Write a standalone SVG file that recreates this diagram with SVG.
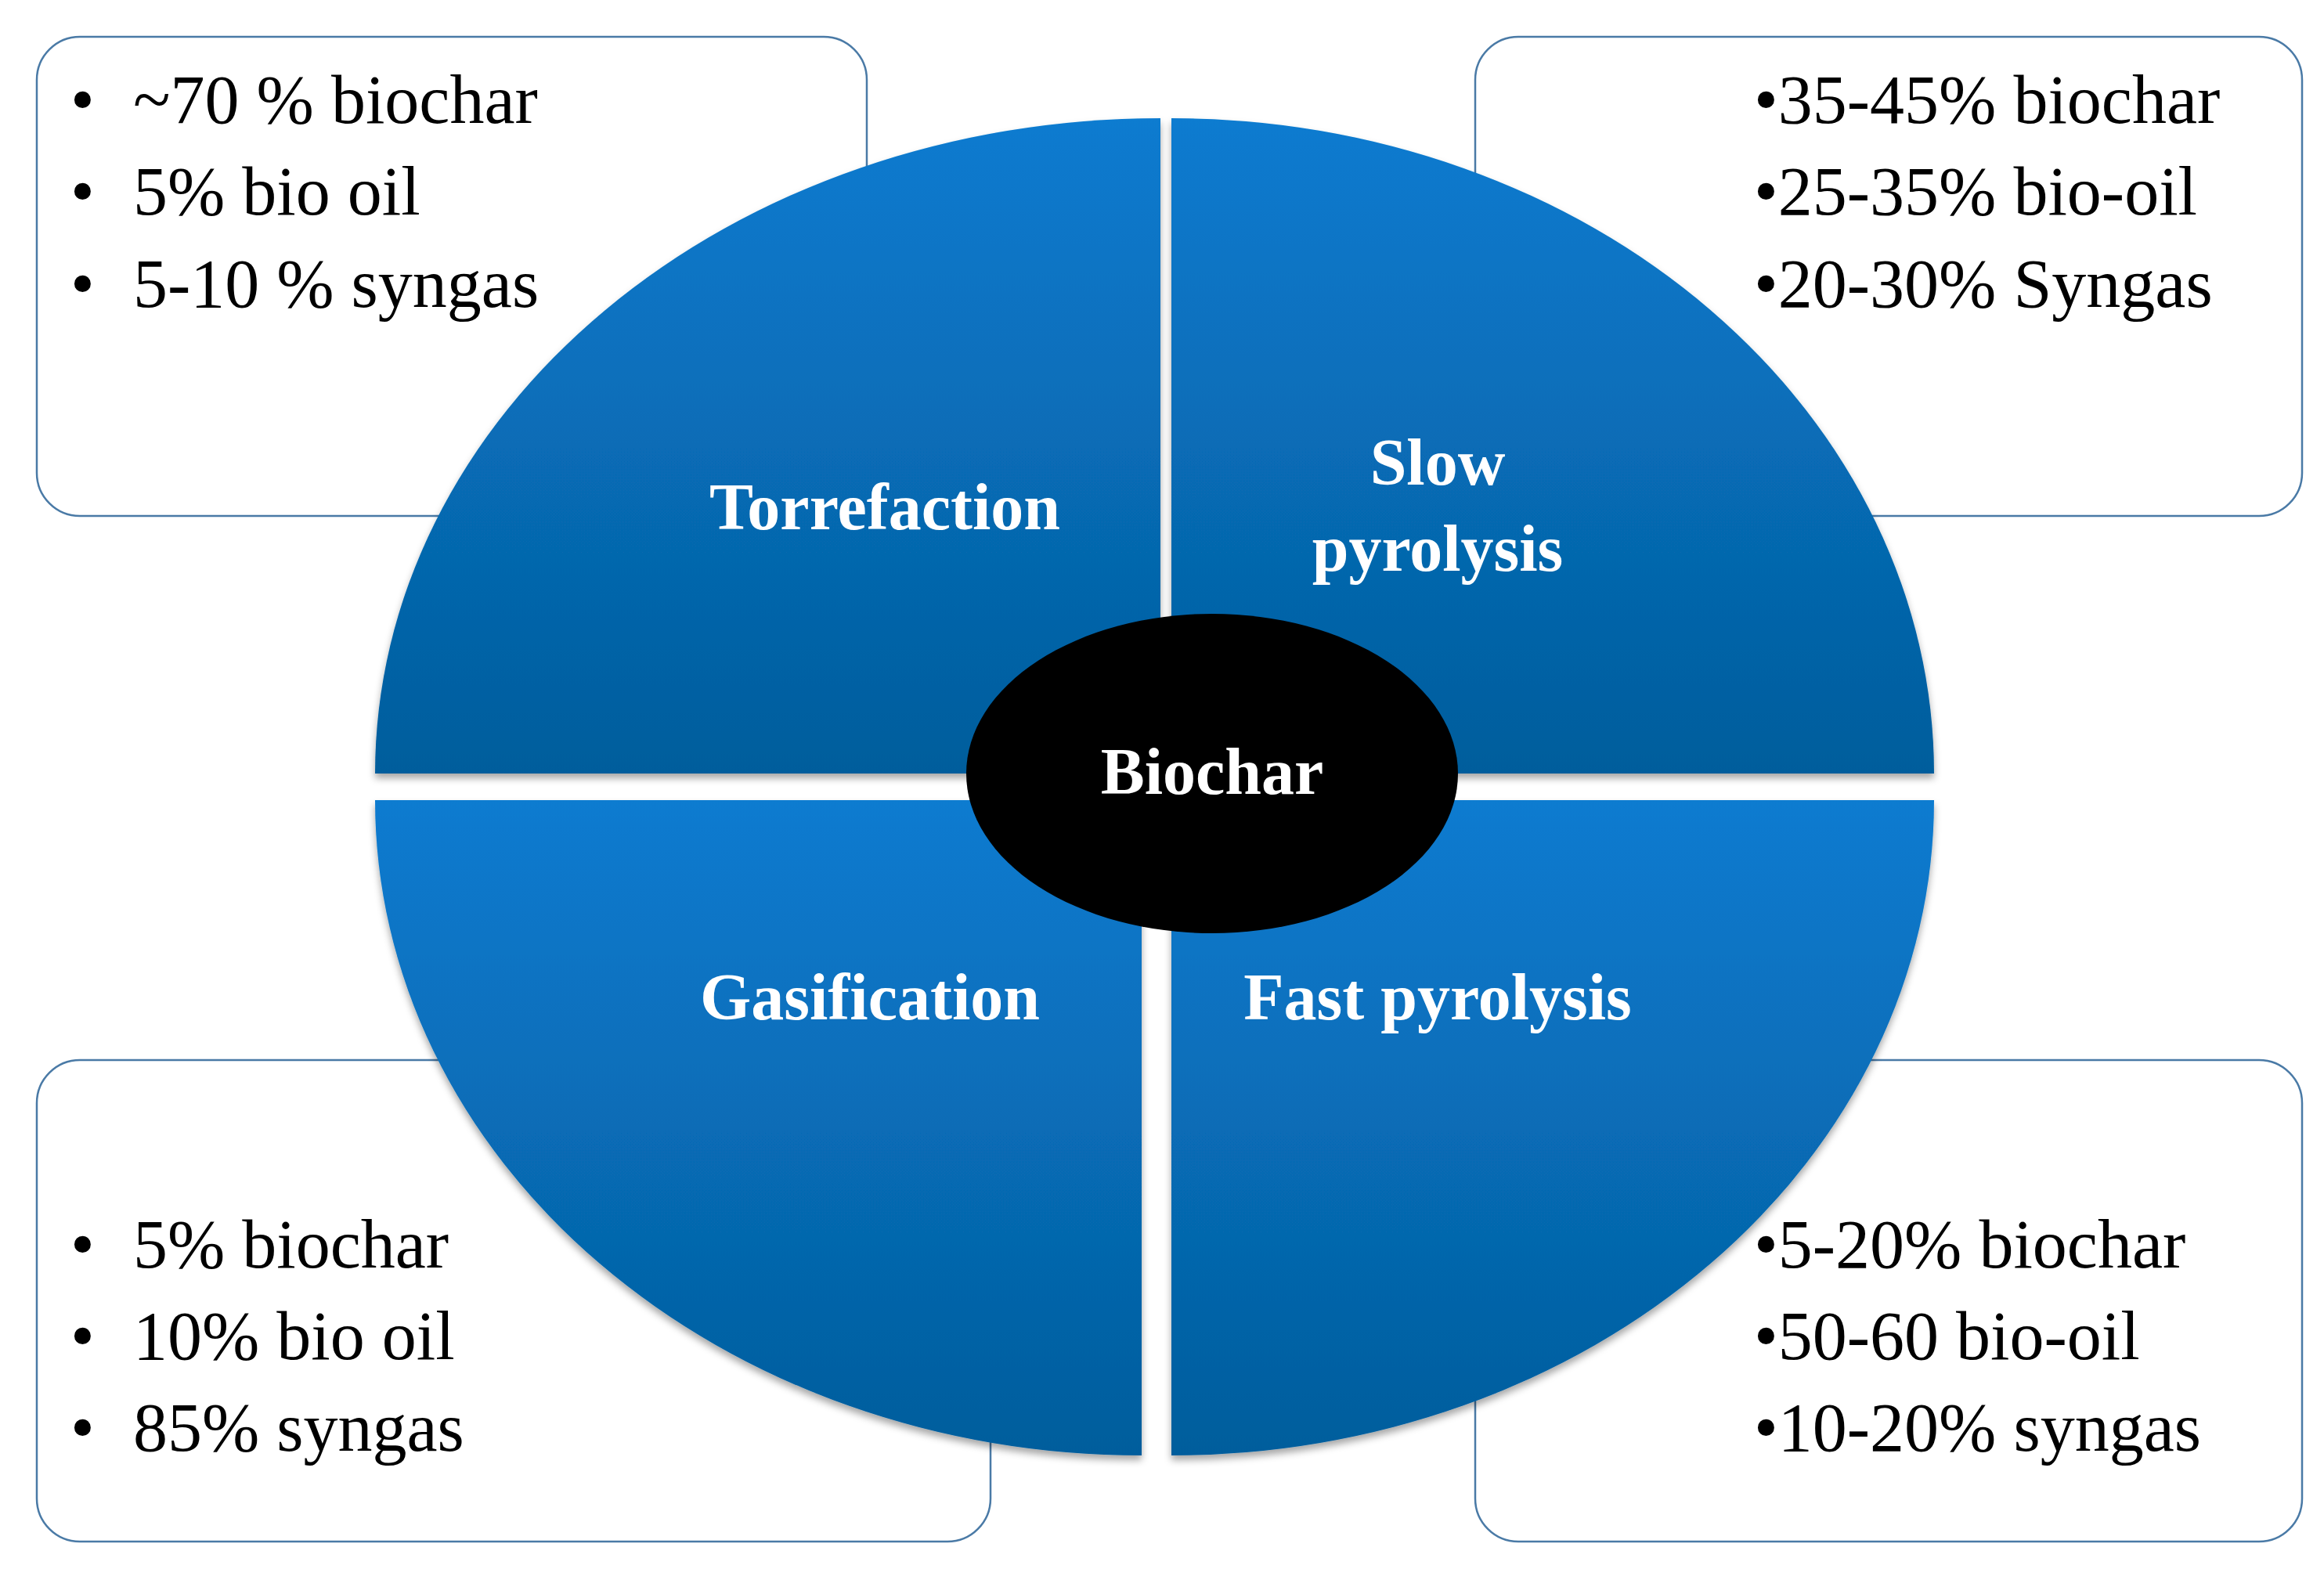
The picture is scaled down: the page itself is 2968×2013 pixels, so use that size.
<svg xmlns="http://www.w3.org/2000/svg" width="2968" height="2013" viewBox="0 0 2968 2013">
<style>
.box{fill:#fff;stroke:#4a7aa6;stroke-width:2.5}
.q{fill:url(#g);filter:url(#sh)}
.t{font-family:"Liberation Serif",serif;font-size:88px;fill:#000}
.l{font-family:"Liberation Serif",serif;font-weight:bold;font-size:84px;fill:#fff;text-anchor:middle}
</style>
<defs>
<linearGradient id="g" x1="0" y1="0" x2="0" y2="1"><stop offset="0" stop-color="#0a7bd0"/><stop offset="1" stop-color="#045d9c"/></linearGradient>
<filter id="sh" x="-5%" y="-5%" width="110%" height="115%"><feDropShadow dx="0" dy="6" stdDeviation="5" flood-opacity="0.35"/></filter>
</defs>
<rect width="2968" height="2013" fill="#fff"/>
<g id="box-tl"><rect class="box" x="47" y="47" width="1060" height="612" rx="55"/>
<text class="t" x="90" y="157">•</text><text class="t" x="170" y="157">~70 % biochar</text>
<text class="t" x="90" y="274">•</text><text class="t" x="170" y="274">5% bio oil</text>
<text class="t" x="90" y="392">•</text><text class="t" x="170" y="392">5-10 % syngas</text></g>
<g id="box-tr"><rect class="box" x="1884" y="47" width="1056" height="612" rx="55"/>
<text class="t" x="2240" y="157">•35-45% biochar</text>
<text class="t" x="2240" y="274">•25-35% bio-oil</text>
<text class="t" x="2240" y="392">•20-30% Syngas</text></g>
<g id="box-bl"><rect class="box" x="47" y="1354" width="1218" height="615" rx="55"/>
<text class="t" x="90" y="1619">•</text><text class="t" x="170" y="1619">5% biochar</text>
<text class="t" x="90" y="1736">•</text><text class="t" x="170" y="1736">10% bio oil</text>
<text class="t" x="90" y="1853">•</text><text class="t" x="170" y="1853">85% syngas</text></g>
<g id="box-br"><rect class="box" x="1884" y="1354" width="1056" height="615" rx="55"/>
<text class="t" x="2240" y="1619">•5-20% biochar</text>
<text class="t" x="2240" y="1736">•50-60 bio-oil</text>
<text class="t" x="2240" y="1853">•10-20% syngas</text></g>
<g id="torrefaction"><path class="q" d="M1482 988 H479 A1003 837 0 0 1 1482 151 Z"/><text class="l" x="1130" y="676">Torrefaction</text></g>
<g id="slow"><path class="q" d="M1496 988 V151 A974 837 0 0 1 2470 988 Z"/><text class="l" x="1836" y="619">Slow</text><text class="l" x="1836" y="729">pyrolysis</text></g>
<g id="gasification"><path class="q" d="M1458 1022 H479 A979 837 0 0 0 1458 1859 Z"/><text class="l" x="1111" y="1302">Gasification</text></g>
<g id="fast"><path class="q" d="M1496 1022 H2470 A974 837 0 0 1 1496 1859 Z"/><text class="l" x="1836" y="1302">Fast pyrolysis</text></g>
<g id="biochar"><ellipse cx="1548" cy="988" rx="314" ry="204" fill="#000"/><text class="l" x="1548" y="1014" font-size="76">Biochar</text></g>
<g id="connectors"/>
</svg>
